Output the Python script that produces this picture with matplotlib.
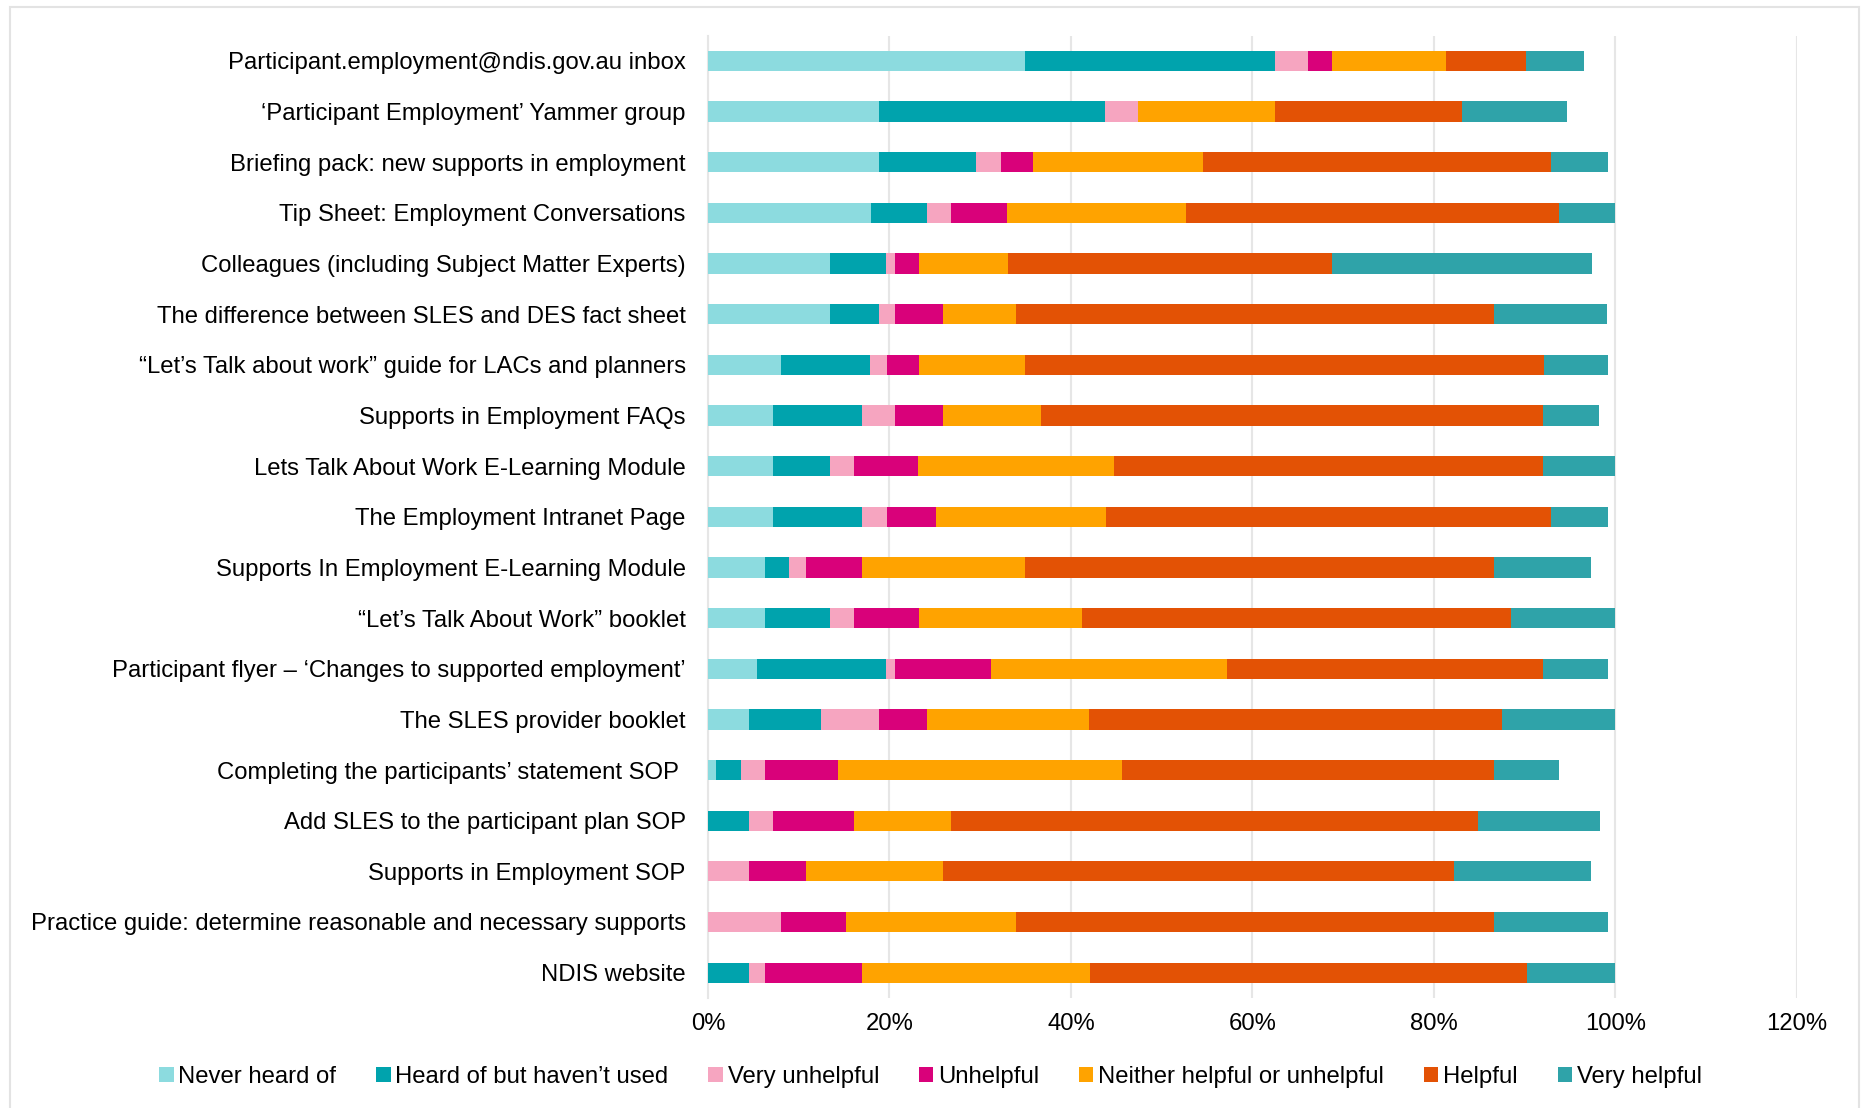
import numpy as np
import matplotlib.pyplot as plt
from matplotlib.patches import Rectangle

plt.rcParams['font.family'] = ['Liberation Sans', 'DejaVu Sans']

categories = [
    'Participant.employment@ndis.gov.au inbox',
    '‘Participant Employment’ Yammer group',
    'Briefing pack: new supports in employment',
    'Tip Sheet: Employment Conversations',
    'Colleagues (including Subject Matter Experts)',
    'The difference between SLES and DES fact sheet',
    '“Let’s Talk about work” guide for LACs and planners',
    'Supports in Employment FAQs',
    'Lets Talk About Work E-Learning Module',
    'The Employment Intranet Page',
    'Supports In Employment E-Learning Module',
    '“Let’s Talk About Work” booklet',
    'Participant flyer – ‘Changes to supported employment’',
    'The SLES provider booklet',
    'Completing the participants’ statement SOP ',
    'Add SLES to the participant plan SOP',
    'Supports in Employment SOP',
    'Practice guide: determine reasonable and necessary supports',
    'NDIS website',
]

# percentages, one list per response option (rows in category order)
never_heard = [34.9, 18.8, 18.8, 18.0, 13.4, 13.4, 8.1, 7.2, 7.2, 7.2, 6.3, 6.3, 5.4, 4.5, 0.9, 0.0, 0.0, 0.0, 0.0]
heard_unused = [27.6, 25.0, 10.7, 6.1, 6.2, 5.4, 9.8, 9.8, 6.2, 9.8, 2.6, 7.1, 14.2, 8.0, 2.7, 4.5, 0.0, 0.0, 4.5]
very_unhelpful = [3.6, 3.6, 2.8, 2.7, 1.0, 1.8, 1.8, 3.6, 2.7, 2.7, 1.9, 2.7, 1.0, 6.3, 2.7, 2.7, 4.5, 8.1, 1.8]
unhelpful = [2.7, 0.0, 3.5, 6.2, 2.7, 5.3, 3.6, 5.3, 7.1, 5.4, 6.2, 7.2, 10.6, 5.3, 8.0, 8.9, 6.3, 7.1, 10.7]
neither = [12.5, 15.1, 18.7, 19.7, 9.8, 8.1, 11.6, 10.8, 21.5, 18.8, 17.9, 17.9, 26.0, 17.9, 31.3, 10.7, 15.1, 18.8, 25.1]
helpful = [8.8, 20.6, 38.4, 41.1, 35.7, 52.6, 57.2, 55.3, 47.3, 49.0, 51.7, 47.3, 34.8, 45.5, 41.0, 58.1, 56.3, 52.6, 48.1]
very_helpful = [6.4, 11.6, 6.3, 6.2, 28.6, 12.5, 7.1, 6.2, 8.0, 6.3, 10.7, 11.5, 7.2, 12.5, 7.2, 13.4, 15.1, 12.6, 9.8]

series_names = ['Never heard of', 'Heard of but haven’t used', 'Very unhelpful', 'Unhelpful',
                'Neither helpful or unhelpful', 'Helpful', 'Very helpful']
colors = ['#8CDBDF', '#00A3AD', '#F6A5C0', '#D9017A', '#FFA300', '#E35205', '#2FA3A9']
series = [never_heard, heard_unused, very_unhelpful, unhelpful, neither, helpful, very_helpful]

fs = 17.2

fig = plt.figure(figsize=(18.61, 11.08), dpi=100)
ax = fig.add_axes([0.3804, 0.0993, 0.5852, 0.8686])

y = np.arange(len(categories))
left = np.zeros(len(categories))
for name, vals, c in zip(series_names, series, colors):
    vals = np.array(vals) / 100
    ax.barh(y, vals, left=left, height=0.4, color=c, label=name, zorder=3)
    left += vals

ax.set_xlim(0, 1.2)
ax.set_ylim(len(categories) - 0.5, -0.5)
ax.set_xticks(np.arange(0, 1.21, 0.2))
ax.set_xticklabels(['{:d}%'.format(int(round(t * 100))) for t in np.arange(0, 1.21, 0.2)])
ax.set_yticks(y)
ax.set_yticklabels(categories)
ax.tick_params(axis='y', length=0, pad=16, labelsize=fs)
ax.tick_params(axis='x', length=0, pad=11, labelsize=fs)
ax.grid(axis='x', color='#E6E6E6', linewidth=1.5, zorder=0)
for s in ['top', 'right', 'bottom']:
    ax.spines[s].set_visible(False)
ax.spines['left'].set_color('#E6E6E6')
ax.spines['left'].set_linewidth(1.5)

handles, labels = ax.get_legend_handles_labels()
fig.legend(handles, labels, loc='center', bbox_to_anchor=(0.50, 0.028), ncol=7,
           frameon=False, fontsize=fs, handlelength=0.6, handleheight=0.6,
           handletextpad=0.2, columnspacing=1.67)

# chart area border
fig.patches.append(Rectangle((10 / 1861, -0.01), 1849 / 1861, 1 - 7 / 1108 + 0.01,
                             transform=fig.transFigure, fill=False,
                             edgecolor='#E3E3E3', linewidth=1.5))

fig.savefig('out.png', dpi=100)
